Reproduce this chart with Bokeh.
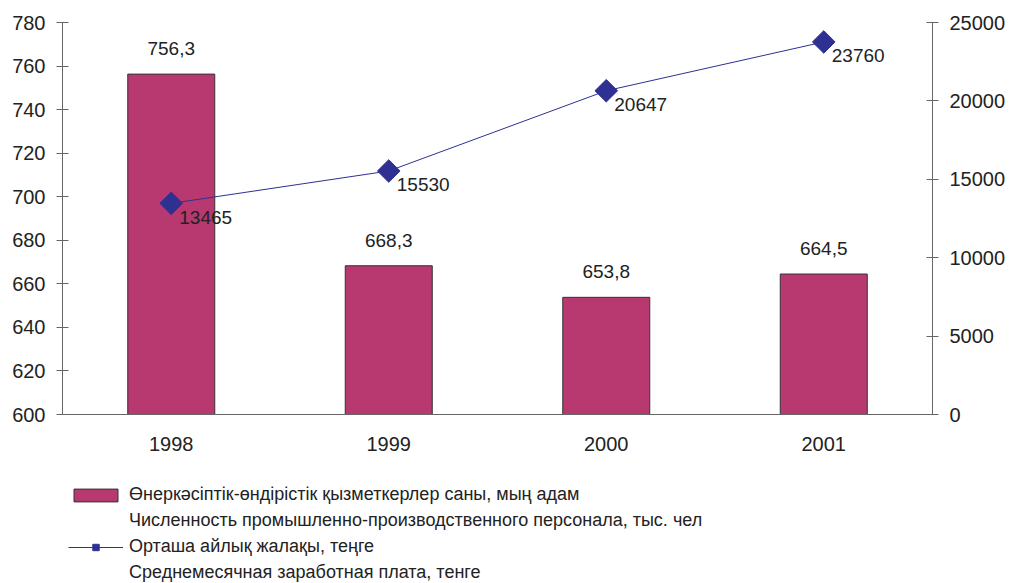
import math
from bokeh.plotting import figure
from bokeh.layouts import column
from bokeh.models import (ColumnDataSource, Range1d, LinearAxis, FactorRange,
                          Legend, LegendItem, FixedTicker)
from bokeh.core.properties import value
from bokeh.embed import file_html
from bokeh.resources import INLINE

years = ["1998", "1999", "2000", "2001"]
personnel = [756.3, 668.3, 653.8, 664.5]
personnel_labels = ["756,3", "668,3", "653,8", "664,5"]
wage = [13465, 15530, 20647, 23760]
wage_labels = ["13465", "15530", "20647", "23760"]
left_ticks = [600, 620, 640, 660, 680, 700, 720, 740, 760, 780]
right_ticks = [0, 5000, 10000, 15000, 20000, 25000]

legend_texts = [
    "Өнеркәсіптік-өндірістік қызметкерлер саны, мың адам",
    "Численность промышленно-производственного персонала, тыс. чел",
    "Орташа айлық жалақы, теңге",
    "Среднемесячная заработная плата, тенге",
]

FONT = "Liberation Sans"
BAR = "#B83870"
NAVY = "#2E3192"
AXIS = "#666666"
TXT = "#222222"

src = ColumnDataSource(dict(x=years, p=personnel, pl=personnel_labels,
                            w=wage, wl=wage_labels))

p = figure(frame_width=870, frame_height=392, x_range=FactorRange(*years),
           y_range=Range1d(600, 780), output_backend="svg",
           toolbar_location=None, min_border_left=62, min_border_right=0,
           min_border_top=22, min_border_bottom=56)
p.extra_y_ranges = {"right": Range1d(0, 25000)}
p.outline_line_color = None
p.xgrid.grid_line_color = None
p.ygrid.grid_line_color = None
p.x_range.range_padding = 0

bars = p.vbar(x="x", top="p", bottom=600, width=0.4, source=src,
              fill_color=BAR, line_color="#333333", line_width=1)
p.text(x="x", y="p", text="pl", source=src, text_align="center",
       text_baseline="bottom", y_offset=-19, text_font=value(FONT),
       text_font_size="19px", text_color=TXT)

p.line(x="x", y="w", source=src, y_range_name="right",
       line_color=NAVY, line_width=1)
p.scatter(x="x", y="w", source=src, y_range_name="right",
          marker="square", angle=math.pi / 4, size=16,
          fill_color=NAVY, line_color=NAVY)
p.text(x="x", y="w", text="wl", source=src, y_range_name="right",
       text_align="left", text_baseline="middle", x_offset=8, y_offset=14,
       text_font=value(FONT), text_font_size="19px", text_color=TXT)

p.yaxis[0].ticker = FixedTicker(ticks=left_ticks)
right = LinearAxis(y_range_name="right", ticker=FixedTicker(ticks=right_ticks))
p.add_layout(right, "right")

for ax in [p.yaxis[0], right]:
    ax.axis_line_color = AXIS
    ax.major_tick_line_color = AXIS
    ax.major_tick_in = 6
    ax.major_tick_out = 6
    ax.minor_tick_line_color = None
    ax.major_label_text_font = FONT
    ax.major_label_text_font_size = "20px"
    ax.major_label_text_color = TXT
    ax.major_label_standoff = 11

xa = p.xaxis[0]
xa.axis_line_color = AXIS
xa.major_tick_line_color = None
xa.major_tick_in = 0
xa.major_tick_out = 0
xa.major_label_text_font = FONT
xa.major_label_text_font_size = "20px"
xa.major_label_text_color = TXT
xa.major_label_standoff = 22

# legend panel: a separate, axis-less figure below the chart
lg = figure(frame_width=870, frame_height=105, x_range=Range1d(0, 1),
            y_range=Range1d(0, 1), x_axis_type=None, y_axis_type=None,
            output_backend="svg", toolbar_location=None,
            min_border_left=62, min_border_top=8, min_border_right=0,
            min_border_bottom=0)
lg.outline_line_color = None

# proxy renderers for legend swatches (their single point lies off-range)
off = dict(x=[-9], y=[-9])
r_bar = lg.vbar(x=off["x"], top=off["y"], width=0.4, fill_color=BAR,
                line_color="#333333", line_width=1)
r_ln = lg.line(x=off["x"], y=off["y"], line_color=NAVY, line_width=1)
r_mk = lg.scatter(x=off["x"], y=off["y"], marker="square",
                  angle=math.pi / 4, size=16,
                  fill_color=NAVY, line_color=NAVY)
d1 = lg.scatter(x=off["x"], y=off["y"], fill_alpha=0, line_alpha=0)
d2 = lg.scatter(x=off["x"], y=off["y"], fill_alpha=0, line_alpha=0)

legend = Legend(items=[
    LegendItem(label=legend_texts[0], renderers=[r_bar]),
    LegendItem(label=legend_texts[1], renderers=[d1]),
    LegendItem(label=legend_texts[2], renderers=[r_ln, r_mk]),
    LegendItem(label=legend_texts[3], renderers=[d2]),
], location="top_left", orientation="vertical",
    glyph_width=55, glyph_height=16, label_height=17, spacing=5,
    padding=0, margin=6, label_standoff=6,
    border_line_color=None, background_fill_alpha=0,
    label_text_font=FONT, label_text_font_size="18px",
    label_text_color=TXT)
lg.add_layout(legend, "center")

layout = column(p, lg, spacing=0)
open("out.html", "w").write(file_html(layout, INLINE))
